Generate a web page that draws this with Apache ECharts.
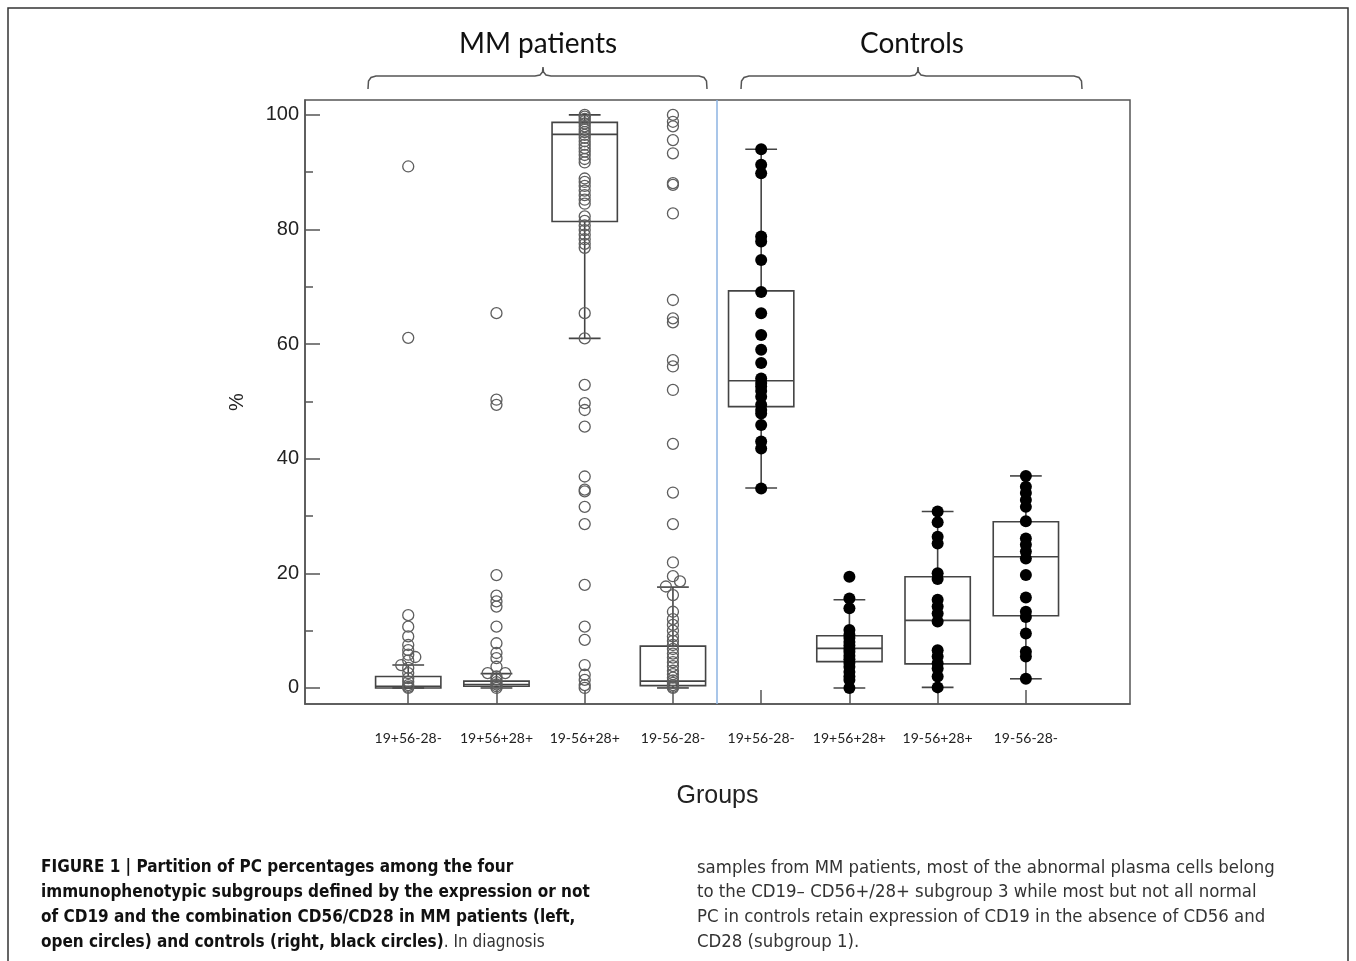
<!DOCTYPE html>
<html><head><meta charset="utf-8">
<script src="https://cdn.jsdelivr.net/npm/echarts@6/dist/echarts.min.js"></script>
<style>html,body{margin:0;padding:0;background:#fff}#c{width:1356px;height:961px}</style>
</head><body><div id="c"></div>
<script>
// ---------- data ----------
const groupLabels = ['19+56-28-','19+56+28+','19-56+28+','19-56-28-','19+56-28-','19+56+28+','19-56+28+','19-56-28-'];
const groupPositions = [1,2,3,4,5,6,7,8];
const yTicks = [0,20,40,60,80,100];
const yMinorTicks = [10,30,50,70,90];

// box statistics: [lower whisker, Q1, median, Q3, upper whisker]
const mmBoxes = [
  [0, 0, 0.3, 2.0, 4.0],
  [0, 0.3, 0.6, 1.2, 2.5],
  [61.0, 81.4, 96.6, 98.7, 100],
  [0, 0.4, 1.2, 7.3, 17.6]
];
const ctrlBoxes = [
  [34.9, 49.1, 53.6, 69.3, 94.0],
  [0, 4.6, 6.9, 9.1, 15.4],
  [0.1, 4.2, 11.8, 19.4, 30.8],
  [1.6, 12.6, 22.9, 29.0, 37.0]
];

// MM patients (open circles)
const mm1 = [91, 61.1, 12.7, 10.7, 9.0, 7.5, 6.6, 5.8, 4.8, 3.5, 2.6, 1.7, 1.1, 0.5, 0.2, 0];
const mm2 = [65.4, 50.3, 49.4, 19.7, 16.1, 15.1, 14.2, 10.7, 7.8, 6.1, 5.2, 3.7, 2.0, 1.5, 1.0, 0.6, 0.3, 0];
const mm3 = [100, 99.7, 99.3, 98.9, 98.5, 98.0, 97.5, 97.0, 96.5, 96.0, 95.4, 94.8, 94.2, 93.6, 93.0, 92.3, 91.7,
             88.9, 88.3, 87.6, 86.8, 86.0, 85.2, 84.5, 82.3, 81.5, 80.7, 79.9, 79.1, 78.3, 77.5, 76.8,
             65.4, 61.0, 52.9, 49.7, 48.5, 45.6, 36.9, 34.6, 34.3, 31.6, 28.6, 18.0, 10.7, 8.4, 4.0, 2.3, 1.4, 0.5, 0];
const mm4 = [100, 98.8, 98.0, 95.6, 93.3, 88.1, 87.8, 82.8, 67.7, 64.5, 63.8, 57.2, 56.1, 52.0, 42.6, 34.1, 28.6,
             21.9, 19.5, 16.2, 13.3, 12.0, 11.0, 10.0, 9.0, 8.2, 7.5, 6.8, 6.0, 5.3, 4.5, 3.8, 3.0, 2.4, 1.8, 1.3, 0.9, 0.5, 0.2, 0];
// MM points drawn slightly beside the group centre: [x, value]
const mmSidePoints = [[0.92, 4.0], [1.08, 5.4], [1.9, 2.6], [2.1, 2.6], [4.08, 18.6], [3.92, 17.7]];

// Controls (black circles)
const ctrl1 = [94, 91.3, 89.8, 78.8, 77.9, 74.7, 69.1, 65.4, 61.6, 59.0, 56.7, 54.0, 53.2, 52.6, 51.8, 50.8, 49.4, 48.5, 47.9, 45.9, 43.0, 41.8, 34.8];
const ctrl2 = [19.4, 15.6, 13.9, 10.1, 9.3, 8.7, 8.0, 7.4, 6.8, 6.3, 5.6, 5.0, 4.4, 3.7, 2.8, 2.0, 1.4, 0];
const ctrl3 = [30.8, 28.9, 26.4, 25.2, 20.0, 19.0, 15.4, 14.2, 13.0, 11.6, 6.6, 5.5, 4.3, 3.4, 2.0, 0.1];
const ctrl4 = [37, 35.1, 34.0, 32.8, 31.6, 29.1, 26.1, 25.0, 23.8, 22.6, 19.7, 15.8, 13.3, 12.4, 9.5, 6.3, 5.5, 1.6];

const dividerAt = 4.5;

// ---------- build ----------
const mmGroups = [mm1, mm2, mm3, mm4];
const ctrlGroups = [ctrl1, ctrl2, ctrl3, ctrl4];
const mmData = mmGroups.flatMap((g, i) => g.map(v => [groupPositions[i], v])).concat(mmSidePoints);
const ctrlData = ctrlGroups.flatMap((g, i) => g.map(v => [groupPositions[i + 4], v]));
const boxData = mmBoxes.concat(ctrlBoxes).map((b, i) => [groupPositions[i]].concat(b));

const AX = '#555';
const chart = echarts.init(document.getElementById('c'));

function renderBox(params, api) {
  const x = api.value(0);
  const lo = api.coord([x, api.value(1)]);
  const q1 = api.coord([x, api.value(2)]);
  const md = api.coord([x, api.value(3)]);
  const q3 = api.coord([x, api.value(4)]);
  const hi = api.coord([x, api.value(5)]);
  const bw = api.size([0.74, 0])[0];
  const cw = api.size([0.36, 0])[0];
  const cx = q1[0];
  const st = {stroke: '#444', lineWidth: 1.6, fill: 'rgba(0,0,0,0)'};
  return {
    type: 'group',
    children: [
      {type: 'rect', shape: {x: cx - bw / 2, y: q3[1], width: bw, height: q1[1] - q3[1]}, style: st},
      {type: 'line', shape: {x1: cx - bw / 2, y1: md[1], x2: cx + bw / 2, y2: md[1]}, style: st},
      {type: 'line', shape: {x1: cx, y1: q3[1], x2: cx, y2: hi[1]}, style: st},
      {type: 'line', shape: {x1: cx, y1: q1[1], x2: cx, y2: lo[1]}, style: st},
      {type: 'line', shape: {x1: cx - cw / 2, y1: hi[1], x2: cx + cw / 2, y2: hi[1]}, style: st},
      {type: 'line', shape: {x1: cx - cw / 2, y1: lo[1], x2: cx + cw / 2, y2: lo[1]}, style: st}
    ]
  };
}

function bracket(x1, xm, x2) {
  return [[x1, 89], [x1 + 0.5, 81], [x1 + 3, 77.5], [x1 + 8, 76], [xm - 8, 76], [xm - 3, 75], [xm - 0.5, 72], [xm, 67],
          [xm + 0.5, 72], [xm + 3, 75], [xm + 8, 76], [x2 - 8, 76], [x2 - 3, 77.5], [x2 - 0.5, 81], [x2, 89]];
}

const capFont = "'Liberation Sans Narrow', 'DejaVu Sans Condensed', 'Liberation Sans', sans-serif";
const leftCap = [
  'FIGURE 1 | Partition of PC percentages among the four',
  'immunophenotypic subgroups defined by the expression or not',
  'of CD19 and the combination CD56/CD28 in MM patients (left,'
];
const rightCap = [
  'samples from MM patients, most of the abnormal plasma cells belong',
  'to the CD19\u2013 CD56+/28+ subgroup 3 while most but not all normal',
  'PC in controls retain expression of CD19 in the absence of CD56 and',
  'CD28 (subgroup 1).'
];
const capY = [868, 892.7, 917.4, 942.1];

const graphics = [
  {type: 'rect', shape: {x: 8, y: 8, width: 1340, height: 1000}, style: {fill: 'rgba(0,0,0,0)', stroke: '#333', lineWidth: 1.5}, silent: true},
  {type: 'text', x: 538, y: 44, style: {text: 'MM patients', font: "28px Lato, 'Open Sans', sans-serif", fill: '#111', align: 'center', verticalAlign: 'middle'}},
  {type: 'text', x: 912, y: 44, style: {text: 'Controls', font: "28px Lato, 'Open Sans', sans-serif", fill: '#111', align: 'center', verticalAlign: 'middle'}},
  {type: 'polyline', shape: {points: bracket(368, 543, 707)}, style: {fill: null, stroke: '#555', lineWidth: 1.5}},
  {type: 'polyline', shape: {points: bracket(741, 918, 1082)}, style: {fill: null, stroke: '#555', lineWidth: 1.5}}
];
leftCap.forEach((t, i) => graphics.push({type: 'text', x: 41, y: capY[i], style: {text: t, font: 'bold 17px ' + capFont, fill: '#111', verticalAlign: 'middle'}}));
graphics.push({type: 'text', x: 41, y: capY[3], style: {
  text: '{b|open circles) and controls (right, black circles)}{r|. In diagnosis}',
  verticalAlign: 'middle',
  rich: {b: {fontWeight: 'bold', fontSize: 17, fontFamily: capFont, fill: '#111'}, r: {fontSize: 17, fontFamily: capFont, fill: '#333'}}
}});
rightCap.forEach((t, i) => graphics.push({type: 'text', x: 697, y: capY[i], style: {text: t, font: '18.4px ' + capFont, fill: '#333', verticalAlign: 'middle'}}));

chart.setOption({
  animation: false,
  backgroundColor: '#fff',
  grid: {left: 305, right: 226, top: 100, bottom: 257, show: true, borderColor: AX, borderWidth: 1.5, containLabel: false, outerBoundsMode: 'none'},
  xAxis: {
    type: 'value', min: -0.17, max: 9.18,
    axisLine: {onZero: false, lineStyle: {color: AX, width: 1.5}},
    splitLine: {show: false},
    axisTick: {customValues: groupPositions, inside: true, length: 14, lineStyle: {color: AX, width: 1.5}},
    axisLabel: {customValues: groupPositions, formatter: v => groupLabels[Math.round(v) - 1], margin: 27,
      fontFamily: "Lato, 'Open Sans', sans-serif", fontSize: 14, color: '#222'},
    name: 'Groups', nameLocation: 'middle', nameGap: 80,
    nameTextStyle: {fontFamily: "'Liberation Sans', Arial, sans-serif", fontSize: 25, color: '#222'}
  },
  yAxis: [{
    type: 'value', min: -2.8, max: 102.6,
    axisLine: {onZero: false, lineStyle: {color: AX, width: 1.5}},
    splitLine: {show: false},
    axisTick: {customValues: yTicks, inside: true, length: 15, lineStyle: {color: AX, width: 1.5}},
    axisLabel: {customValues: yTicks, margin: 6, fontFamily: "'Liberation Sans', Arial, sans-serif", fontSize: 20, color: '#222'},
    name: '%', nameLocation: 'middle', nameGap: 58, nameRotate: 90,
    nameTextStyle: {fontFamily: "'Liberation Sans', Arial, sans-serif", fontSize: 20, color: '#222'}
  }, {
    type: 'value', min: -2.8, max: 102.6, position: 'left', offset: 0,
    axisLine: {show: false, onZero: false},
    splitLine: {show: false},
    axisTick: {customValues: yMinorTicks, inside: true, length: 8, lineStyle: {color: AX, width: 1.5}},
    axisLabel: {show: false}
  }],
  graphic: graphics,
  series: [
    {
      type: 'custom', renderItem: renderBox, data: boxData, z: 2, silent: true,
      encode: {x: 0, y: [1, 2, 3, 4, 5]}
    },
    {
      type: 'scatter', data: mmData, symbol: 'circle', symbolSize: 11, z: 3, silent: true,
      itemStyle: {color: 'rgba(0,0,0,0)', borderColor: '#5e5e5e', borderWidth: 1.3, opacity: 1}
    },
    {
      type: 'scatter', data: ctrlData, symbol: 'circle', symbolSize: 12, z: 3, silent: true,
      itemStyle: {color: '#000', opacity: 1},
      markLine: {silent: true, symbol: 'none', label: {show: false},
        lineStyle: {color: '#8db3e2', width: 1.5, type: 'solid'},
        data: [{xAxis: dividerAt}]}
    }
  ]
});
</script></body></html>
